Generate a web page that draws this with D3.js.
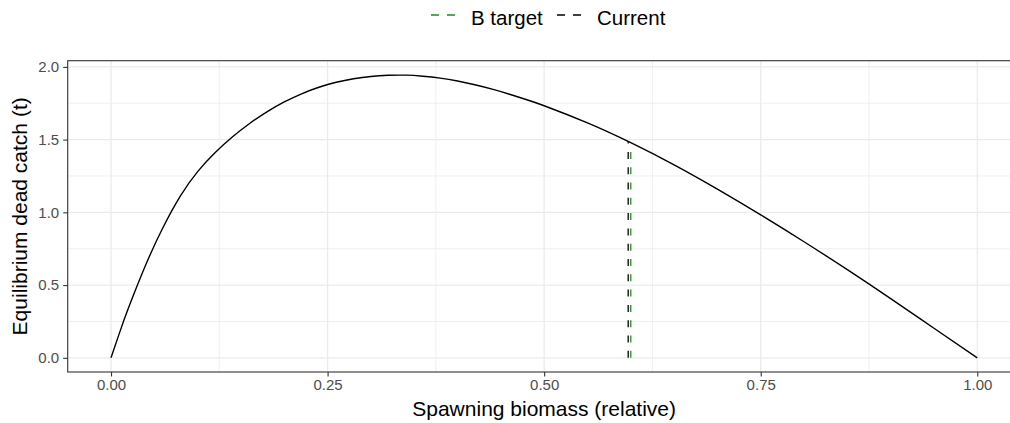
<!DOCTYPE html>
<html>
<head>
<meta charset="utf-8">
<script src="https://cdn.jsdelivr.net/npm/d3@7"></script>
<style>
  body { margin: 0; background: #fff; }
  text { font-family: "Liberation Sans", Arial, sans-serif; }
</style>
</head>
<body>
<svg id="chart" width="1010" height="423"></svg>
<script>
// --- data ---
const biomass = [0, 0.01, 0.02, 0.04, 0.06, 0.08, 0.1, 0.12, 0.14, 0.16, 0.18, 0.2, 0.22, 0.24, 0.26, 0.28,
                 0.3, 0.32, 0.34, 0.36, 0.38, 0.4, 0.42, 0.44, 0.46, 0.48, 0.5,
                 0.55, 0.6, 0.65, 0.7, 0.75, 0.8, 0.85, 0.9, 0.95, 1.0];
const deadCatch = [0, 0.175, 0.34, 0.638, 0.896, 1.112, 1.28, 1.41, 1.518, 1.611, 1.691, 1.759, 1.815, 1.86, 1.894, 1.918,
                   1.934, 1.942, 1.943, 1.936, 1.923, 1.903, 1.877, 1.847, 1.812, 1.774, 1.733,
                   1.615, 1.479, 1.327, 1.16, 0.983, 0.798, 0.606, 0.407, 0.203, 0];

const refNames = ['B target', 'Current'];
const refX = [0.6, 0.597];
const refY = [1.47, 1.49];
const refColors = ['#228B22', '#000000'];

const xTicks = [0, 0.25, 0.5, 0.75, 1];
const xMinor = [0.125, 0.375, 0.625, 0.875];
const yTicks = [0, 0.5, 1, 1.5, 2];
const yMinor = [0.25, 0.75, 1.25, 1.75];

const svg = d3.select('#chart');
const panel = { left: 67.7, top: 60.7, right: 1020.6, bottom: 372 };

const x = d3.scaleLinear().domain([-0.05, 1.05]).range([panel.left, panel.right]);
const y = d3.scaleLinear().domain([-0.0975, 2.0425]).range([panel.bottom, panel.top]);

svg.append('rect').attr('width', 1010).attr('height', 423).attr('fill', '#fff');

svg.append('defs').append('clipPath').attr('id', 'clip')
  .append('rect')
  .attr('x', panel.left).attr('y', panel.top)
  .attr('width', panel.right - panel.left).attr('height', panel.bottom - panel.top);

const plot = svg.append('g').attr('clip-path', 'url(#clip)');

// grid
plot.selectAll('.vminor').data(xMinor).join('line')
  .attr('x1', d => x(d)).attr('x2', d => x(d))
  .attr('y1', panel.top).attr('y2', panel.bottom)
  .attr('stroke', '#EBEBEB').attr('stroke-width', 0.8);
plot.selectAll('.hminor').data(yMinor).join('line')
  .attr('y1', d => y(d)).attr('y2', d => y(d))
  .attr('x1', panel.left).attr('x2', panel.right)
  .attr('stroke', '#EBEBEB').attr('stroke-width', 0.8);
plot.selectAll('.vmajor').data(xTicks).join('line')
  .attr('x1', d => x(d)).attr('x2', d => x(d))
  .attr('y1', panel.top).attr('y2', panel.bottom)
  .attr('stroke', '#EBEBEB').attr('stroke-width', 1.3);
plot.selectAll('.hmajor').data(yTicks).join('line')
  .attr('y1', d => y(d)).attr('y2', d => y(d))
  .attr('x1', panel.left).attr('x2', panel.right)
  .attr('stroke', '#EBEBEB').attr('stroke-width', 1.3);

// curve
const pts = biomass.map((b, i) => [b, deadCatch[i]]);
plot.append('path')
  .datum(pts)
  .attr('fill', 'none')
  .attr('stroke', '#000')
  .attr('stroke-width', 1.4)
  .attr('d', d3.line().x(d => x(d[0])).y(d => y(d[1])).curve(d3.curveNatural));

// reference lines (drawn from zero upward so dashes start at the bottom)
[1, 0].forEach(i => {
  plot.append('line')
    .attr('x1', x(refX[i])).attr('x2', x(refX[i]))
    .attr('y1', y(0)).attr('y2', y(refY[i]))
    .attr('stroke', refColors[i])
    .attr('stroke-width', 1.3)
    .attr('stroke-dasharray', '7 8.3');
});

// panel border
svg.append('rect')
  .attr('x', panel.left).attr('y', panel.top)
  .attr('width', panel.right - panel.left).attr('height', panel.bottom - panel.top)
  .attr('fill', 'none').attr('stroke', '#333333').attr('stroke-width', 1.1);

// axes
const xAxis = svg.append('g')
  .attr('transform', `translate(0,${panel.bottom})`)
  .call(d3.axisBottom(x).tickValues(xTicks).tickFormat(d3.format('.2f')).tickSize(4.5).tickPadding(3));
const yAxis = svg.append('g')
  .attr('transform', `translate(${panel.left},0)`)
  .call(d3.axisLeft(y).tickValues(yTicks).tickFormat(d3.format('.1f')).tickSize(4.5).tickPadding(4));
[xAxis, yAxis].forEach(a => {
  a.select('.domain').remove();
  a.selectAll('.tick line').attr('stroke', '#333333').attr('stroke-width', 1.1);
  a.selectAll('.tick text').attr('fill', '#4D4D4D').style('font-size', '15px')
    .style('font-family', '"Liberation Sans", Arial, sans-serif');
});

// axis titles
svg.append('text')
  .attr('x', x(0.5)).attr('y', 416)
  .attr('text-anchor', 'middle').style('font-size', '21px')
  .text('Spawning biomass (relative)');
svg.append('text')
  .attr('transform', `translate(27,${(panel.top + panel.bottom) / 2}) rotate(-90)`)
  .attr('text-anchor', 'middle').style('font-size', '21px')
  .text('Equilibrium dead catch (t)');

// legend
const legendKeyX = [431, 557];
const legend = svg.append('g');
refNames.forEach((name, i) => {
  legend.append('line')
    .attr('x1', legendKeyX[i]).attr('x2', legendKeyX[i] + 25)
    .attr('y1', 15).attr('y2', 15)
    .attr('stroke', refColors[i]).attr('stroke-width', 1.4)
    .attr('stroke-dasharray', '8 8');
  legend.append('text')
    .attr('x', legendKeyX[i] + 40).attr('y', 25)
    .style('font-size', '20.5px')
    .text(name);
});
</script>
</body>
</html>
